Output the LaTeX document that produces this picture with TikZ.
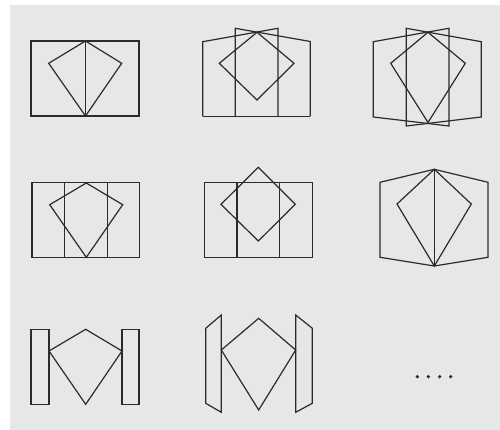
\documentclass[tikz,border=0pt]{standalone}
\definecolor{bggray}{HTML}{E6E7E9}
\definecolor{ink}{HTML}{2B2B2B}
\tikzset{
  ln/.style={draw=ink, line width=1.2pt, line join=miter},
  dotmark/.style={fill=ink, draw=none}
}
\begin{document}
\begin{tikzpicture}[x=1pt,y=-1pt]
\useasboundingbox (0,0) rectangle (500,430);
\fill[bggray] (10,5) rectangle (500,430);

% 1: top-left
\draw[ln] (31,41) rectangle (139,116);
\draw[ln] (85.5,41) -- (85.5,116);
\draw[ln] (85.5,41) -- (121.7,63.3) -- (85.5,116) -- (48.7,63.3) -- cycle;

% 2: top-middle
\draw[ln] (202.7,116.5) -- (202.7,41.7) -- (278,28.3) -- (278,116.5);
\draw[ln] (310.3,116.5) -- (310.3,41.5) -- (235.3,28.3) -- (235.3,116.5);
\draw[ln] (202.7,116.5) -- (310.3,116.5);
\draw[ln] (257,32.3) -- (294,63.3) -- (257,100) -- (219.3,63.3) -- cycle;

% 3: top-right
\draw[ln] (373.3,41.7) -- (449,28.3) -- (449,126) -- (373.3,117) -- cycle;
\draw[ln] (481.3,41.7) -- (406.3,28.3) -- (406.3,126) -- (481.3,117) -- cycle;
\draw[ln] (428,32.3) -- (465.3,63.3) -- (428,122.5) -- (390.7,63.3) -- cycle;

% 4: middle-left
\draw[ln] (32,182.3) rectangle (139.7,257.3);
\draw[ln] (64.7,182.3) -- (64.7,257.3);
\draw[ln] (107.3,182.3) -- (107.3,257.3);
\draw[ln] (86.3,183) -- (122.7,204.7) -- (86.3,257.3) -- (49.7,204.7) -- cycle;

% 5: middle-middle
\draw[ln] (204.3,182.3) rectangle (312.3,257.3);
\draw[ln] (237,182.3) -- (237,257.3);
\draw[ln] (279.7,182.3) -- (279.7,257.3);
\draw[ln] (258.3,167.3) -- (295.3,204.3) -- (258.3,241) -- (221,204.3) -- cycle;

% 6: middle-right
\draw[ln] (380,182.3) -- (434.3,169.3) -- (488,182.3) -- (488,257.3) -- (434.3,266) -- (380,257.3) -- cycle;
\draw[ln] (434.3,169.3) -- (434.3,266);
\draw[ln] (434.3,169.3) -- (471.3,204) -- (434.3,266) -- (397,204) -- cycle;

% 7: bottom-left
\draw[ln] (31,329.3) rectangle (49,404.3);
\draw[ln] (122,329.3) rectangle (139,404.3);
\draw[ln] (85.7,329.3) -- (122,351) -- (85.7,404.3) -- (49,351) -- cycle;

% 8: bottom-middle
\draw[ln] (205.7,328.3) -- (221.3,315) -- (221.3,412.3) -- (205.7,403.3) -- cycle;
\draw[ln] (295.7,315) -- (312.3,328.3) -- (312.3,403.3) -- (295.7,412.3) -- cycle;
\draw[ln] (258.7,318.3) -- (295.7,350) -- (258.7,410) -- (221.3,350) -- cycle;

% dots
\foreach \x in {417.3,428.3,439.7,450.7}
  \fill[dotmark] (\x,376.7) circle (1.8);
\end{tikzpicture}
\end{document}
